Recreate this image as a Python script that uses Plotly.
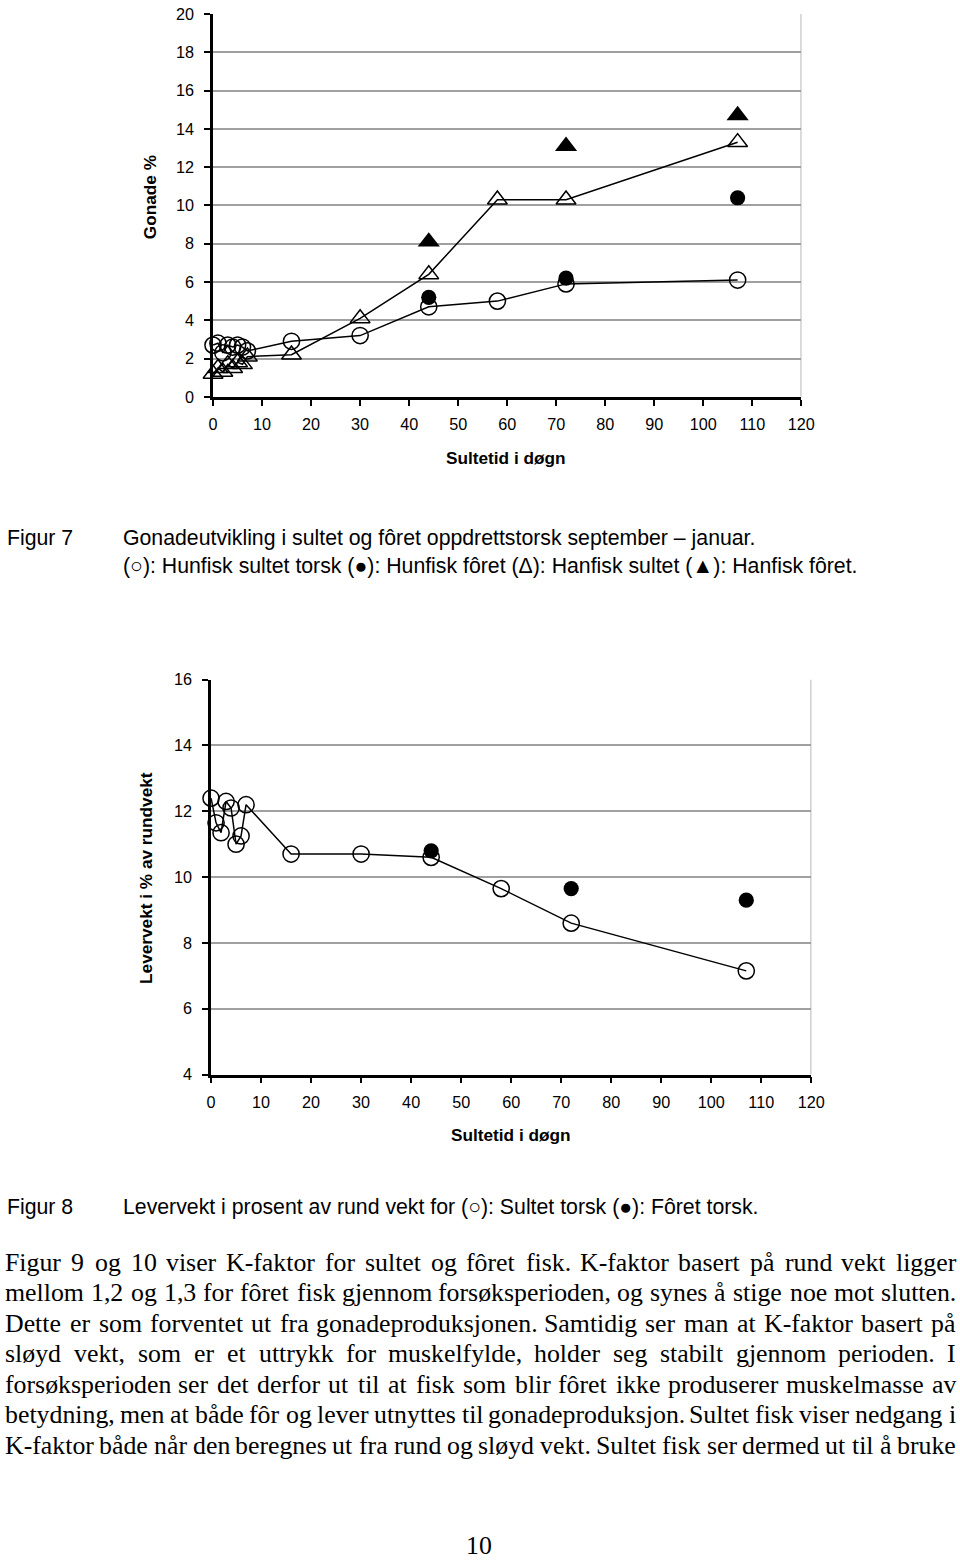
import plotly.graph_objects as go

# Observed page transform (page pixel = offset + scale * figure pixel); the
# helpers below invert it so everything lands where the reference has it.
SX, SY = 0.985, 0.989
OX, OY = 2.0, 8.0
W, H = 975, 1572

# ---------------- data ----------------
# Figur 7 – Gonade %
gon_days = [0, 1, 2, 3, 4, 5, 6, 7, 16, 30, 44, 58, 72, 107]
gon_hun_sultet = [2.7, 2.8, 2.3, 2.7, 2.6, 2.7, 2.6, 2.4, 2.9, 3.2, 4.7, 5.0, 5.9, 6.1]
gon_han_sultet = [1.2, 1.5, 1.3, 1.7, 1.5, 1.8, 1.7, 2.1, 2.2, 4.1, 6.4, 10.3, 10.3, 13.3]
fed_days = [44, 72, 107]
gon_hun_foret = [5.2, 6.2, 10.4]
gon_han_foret = [8.1, 13.1, 14.7]

# Figur 8 – Levervekt i % av rundvekt
lev_days = [0, 1, 2, 3, 4, 5, 6, 7, 16, 30, 44, 58, 72, 107]
lev_sultet = [12.4, 11.65, 11.35, 12.3, 12.1, 11.0, 11.25, 12.2, 10.7, 10.7, 10.6, 9.65, 8.6, 7.15]
lev_foret = [10.8, 9.65, 9.3]

x_ticks = [0, 10, 20, 30, 40, 50, 60, 70, 80, 90, 100, 110, 120]
gon_yticks = [0, 2, 4, 6, 8, 10, 12, 14, 16, 18, 20]
lev_yticks = [4, 6, 8, 10, 12, 14, 16]

caption7 = ["Gonadeutvikling i sultet og fôret oppdrettstorsk september – januar.",
            "(○): Hunfisk sultet torsk (●): Hunfisk fôret (Δ): Hanfisk sultet (▲): Hanfisk fôret."]
caption8 = "Levervekt i prosent av rund vekt for (○): Sultet torsk (●): Fôret torsk."
paragraph = [
    "Figur 9 og 10 viser K-faktor for sultet og fôret fisk. K-faktor basert på rund vekt ligger",
    "mellom 1,2 og 1,3 for fôret fisk gjennom forsøksperioden, og synes å stige noe mot slutten.",
    "Dette er som forventet ut fra gonadeproduksjonen. Samtidig ser man at K-faktor basert på",
    "sløyd vekt, som er et uttrykk for muskelfylde, holder seg stabilt gjennom perioden. I",
    "forsøksperioden ser det derfor ut til at fisk som blir fôret ikke produserer muskelmasse av",
    "betydning, men at både fôr og lever utnyttes til gonadeproduksjon. Sultet fisk viser nedgang i",
    "K-faktor både når den beregnes ut fra rund og sløyd vekt. Sultet fisk ser dermed ut til å bruke",
]

# ---------------- helpers ----------------
def fx(p):           # page x pixel -> figure x pixel
    return (p - OX) / SX

def fy(p):           # page y pixel -> figure y pixel
    return (p - OY) / SY

def px(p):
    return fx(p) / W

def py(p):
    return 1 - fy(p) / H

K = 1 / ((SX + SY) / 2)   # size compensation

SANS = "Liberation Sans, Arial, sans-serif"
SERIF = "Liberation Serif, Times New Roman, serif"

# Times metrics (1/1000 em) for justified text layout
TIMES = {' ': 250, ',': 250, '.': 250, '-': 333,
         'a': 444, 'b': 500, 'c': 444, 'd': 500, 'e': 444, 'f': 333, 'g': 500, 'h': 500,
         'i': 278, 'j': 278, 'k': 500, 'l': 278, 'm': 778, 'n': 500, 'o': 500, 'p': 500,
         'q': 500, 'r': 333, 's': 389, 't': 278, 'u': 500, 'v': 500, 'w': 722, 'x': 500,
         'y': 500, 'z': 444, 'å': 444, 'ø': 500, 'ô': 500, 'æ': 667,
         'A': 722, 'D': 722, 'F': 556, 'I': 333, 'K': 722, 'S': 556}

def tw(s, size):
    return sum(TIMES.get(c, 500) for c in s) / 1000 * size

annotations = []

def ann(text, x, y, size, family=SANS, xanchor='left', bold=False, angle=0):
    annotations.append(dict(
        text=f"<b>{text}</b>" if bold else text, x=x, y=y, xref='paper', yref='paper',
        xanchor=xanchor, yanchor='middle', showarrow=False, textangle=angle,
        font=dict(family=family, size=size, color='black')))

# ---------------- figure ----------------
fig = go.Figure()

line_style = dict(color='black', width=1.5)
open_circle = dict(symbol='circle-open', size=16 * K, color='black', line=dict(width=1.5, color='black'))
open_tri = dict(symbol='triangle-up-open', size=17 * K, color='black', line=dict(width=1.5, color='black'))
filled_circle = dict(symbol='circle', size=15 * K, color='black')
filled_tri = dict(symbol='triangle-up', size=19 * K, color='black')

fig.add_trace(go.Scatter(x=gon_days, y=gon_hun_sultet, mode='lines+markers', line=line_style,
                         marker=open_circle, xaxis='x', yaxis='y', cliponaxis=False, showlegend=False))
fig.add_trace(go.Scatter(x=gon_days, y=gon_han_sultet, mode='lines+markers', line=line_style,
                         marker=open_tri, xaxis='x', yaxis='y', cliponaxis=False, showlegend=False))
fig.add_trace(go.Scatter(x=fed_days, y=gon_hun_foret, mode='markers',
                         marker=filled_circle, xaxis='x', yaxis='y', cliponaxis=False, showlegend=False))
fig.add_trace(go.Scatter(x=fed_days, y=gon_han_foret, mode='markers',
                         marker=filled_tri, xaxis='x', yaxis='y', cliponaxis=False, showlegend=False))

fig.add_trace(go.Scatter(x=lev_days, y=lev_sultet, mode='lines+markers', line=line_style,
                         marker=open_circle, xaxis='x2', yaxis='y2', cliponaxis=False, showlegend=False))
fig.add_trace(go.Scatter(x=fed_days, y=lev_foret, mode='markers',
                         marker=filled_circle, xaxis='x2', yaxis='y2', cliponaxis=False, showlegend=False))

tickfont = dict(family=SANS, size=16 * K, color='black')
common_x = dict(range=[0, 120], tickvals=x_ticks, showline=True, linecolor='black', linewidth=2.5,
                ticks='outside', ticklen=6, tickwidth=2, tickcolor='black', showgrid=False,
                zeroline=False, tickfont=tickfont, ticklabelstandoff=5)
common_y = dict(showline=True, linecolor='black', linewidth=2.5, ticks='outside', ticklen=6,
                tickwidth=2, tickcolor='black', showgrid=True, gridcolor='#a0a0a0', gridwidth=1.5,
                zeroline=False, tickfont=tickfont, ticklabelstandoff=7)

fig.update_layout(
    width=W, height=H, margin=dict(l=0, r=0, t=0, b=0),
    paper_bgcolor='white', plot_bgcolor='white',
    xaxis=dict(domain=[px(211), px(802)], anchor='y', **common_x),
    yaxis=dict(domain=[py(396), py(13)], anchor='x', range=[0, 20], tickvals=gon_yticks, **common_y),
    xaxis2=dict(domain=[px(209), px(812)], anchor='y2', **common_x),
    yaxis2=dict(domain=[py(1074), py(679)], anchor='x2', range=[4, 16], tickvals=lev_yticks, **common_y),
)

# right plot-area borders
fig.add_shape(type='line', xref='x', yref='y domain', x0=120, x1=120, y0=0, y1=1,
              line=dict(color='#a0a0a0', width=1.5))
fig.add_shape(type='line', xref='x2', yref='y2 domain', x0=120, x1=120, y0=0, y1=1,
              line=dict(color='#a0a0a0', width=1.5))

# axis titles
ann("Sultetid i døgn", px(505), py(457), 17 * K, xanchor='center', bold=True)
ann("Gonade %", px(148), py(196), 17 * K, xanchor='center', bold=True, angle=-90)
ann("Sultetid i døgn", px(510), py(1135), 17 * K, xanchor='center', bold=True)
ann("Levervekt i % av rundvekt", px(143), py(877), 17 * K, xanchor='center', bold=True, angle=-90)

# captions
CAP = 21 * K
ann("Figur 7", px(2), py(537), CAP)
ann(caption7[0], px(119), py(537), CAP)
ann(caption7[1], px(119), py(565), CAP)
ann("Figur 8", px(2), py(1207), CAP)
ann(caption8, px(119), py(1207), CAP)

# justified paragraph (computed in figure pixels)
PSIZE = 25.5 * K
LEFT, RIGHT = fx(3), fx(957)
for i, line in enumerate(paragraph):
    yc = 1262 + i * 30.5
    words = line.split(' ')
    widths = [tw(w, PSIZE) for w in words]
    gap = (RIGHT - LEFT - sum(widths)) / (len(words) - 1)
    x = LEFT
    for w, wd in zip(words, widths):
        ann(w, (x + wd / 2) / W, py(yc), PSIZE, family=SERIF, xanchor='center')
        x += wd + gap

# page number
ann("10", px(478), py(1545), PSIZE, family=SERIF, xanchor='center')

fig.update_layout(annotations=annotations)

fig.write_html("out.html")
